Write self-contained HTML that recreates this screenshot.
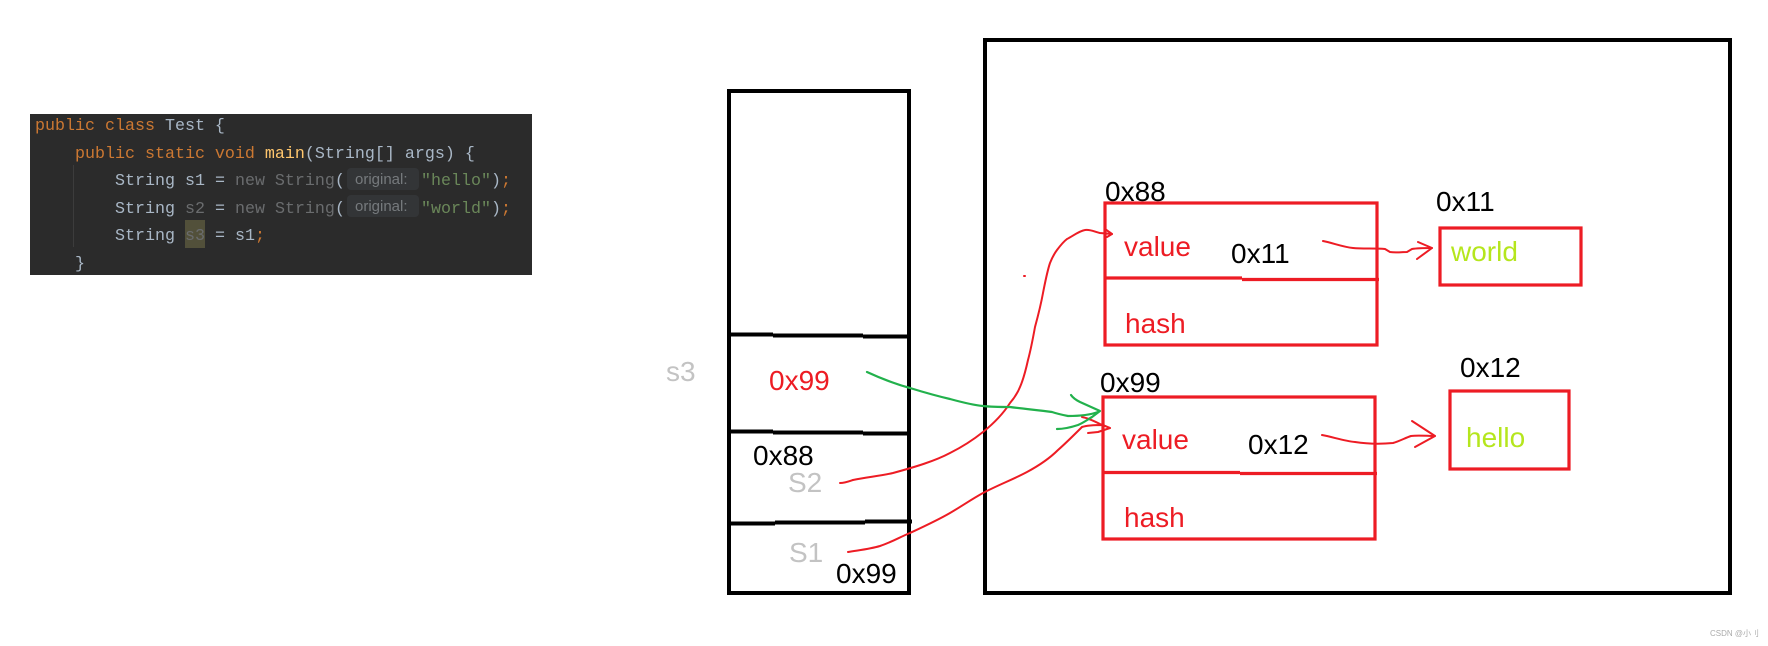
<!DOCTYPE html>
<html><head><meta charset="utf-8">
<style>
html,body{margin:0;padding:0;background:#fff;width:1768px;height:646px;overflow:hidden}
svg{display:block}
.t{font-family:"Liberation Sans",sans-serif;font-size:28px}
.m{font-family:"Liberation Mono",monospace;font-size:16.67px;white-space:pre}
.h{font-family:"Liberation Sans",sans-serif;font-size:15px;fill:#767a7d}
.k{fill:#cc7832}.w{fill:#a9b7c6}.g{fill:#6a6c6e}.s{fill:#6a8759}.f{fill:#ffc66d}
</style></head><body>
<svg width="1768" height="646" viewBox="0 0 1768 646" xmlns="http://www.w3.org/2000/svg">
<rect x="30" y="114" width="502" height="161" fill="#2b2b2b"/>
<rect x="185" y="220" width="20" height="28" fill="#52503a"/>
<rect x="347" y="168" width="72" height="22" rx="4" fill="#333537"/>
<rect x="347" y="195" width="72" height="22" rx="4" fill="#333537"/>
<path d="M73.500 165V247" stroke="#3c3c3c" stroke-width="1"/>
<text class="m" x="35" y="130"><tspan class="k">public class </tspan><tspan class="w">Test {</tspan></text>
<text class="m" x="75" y="158"><tspan class="k">public static void </tspan><tspan class="f">main</tspan><tspan class="w">(String[] args) {</tspan></text>
<text class="m" x="115" y="185"><tspan class="w">String s1 = </tspan><tspan class="g">new String</tspan><tspan class="w">(</tspan></text>
<text class="h" x="355" y="184">original:</text>
<text class="m" x="421" y="185"><tspan class="s">"hello"</tspan><tspan class="w">)</tspan><tspan class="k">;</tspan></text>
<text class="m" x="115" y="213"><tspan class="w">String </tspan><tspan class="g">s2</tspan><tspan class="w"> = </tspan><tspan class="g">new String</tspan><tspan class="w">(</tspan></text>
<text class="h" x="355" y="211">original:</text>
<text class="m" x="421" y="213"><tspan class="s">"world"</tspan><tspan class="w">)</tspan><tspan class="k">;</tspan></text>
<text class="m" x="115" y="240"><tspan class="w">String </tspan><tspan class="g">s3</tspan><tspan class="w"> = s1</tspan><tspan class="k">;</tspan></text>
<text class="m" x="75" y="268"><tspan class="w">}</tspan></text>

<g fill="none" stroke="#000" stroke-width="4">
<rect x="729" y="91" width="180" height="502"/>
<rect x="985" y="40" width="745" height="553"/>
<path d="M729 334.500H773M773 335.500H863M863 336.500H909"/>
<path d="M727 431.500H773M773 432.500H863M863 433.500H909"/>
<path d="M729 523.500H775M775 522.500H865M865 521.500H912"/>
</g>

<g fill="none" stroke="#ed1c24" stroke-width="3.200">
<rect x="1105" y="203" width="272" height="142"/>
<path d="M1105 278H1242M1242 279.500H1379"/>
<rect x="1103" y="397" width="272" height="142"/>
<path d="M1103 472.500H1240M1240 473.500H1377"/>
<rect x="1440" y="228" width="141" height="57"/>
<rect x="1450" y="391" width="119" height="78"/>
</g>

<text class="t" x="666" y="381" fill="#c3c3c3">s3</text>
<text class="t" x="769" y="390" fill="#ed1c24">0x99</text>
<text class="t" x="753" y="465">0x88</text>
<text class="t" x="788" y="492" fill="#c3c3c3">S2</text>
<text class="t" x="789" y="562" fill="#c3c3c3">S1</text>
<text class="t" x="836" y="583">0x99</text>

<text class="t" x="1105" y="201">0x88</text>
<text class="t" x="1436" y="211">0x11</text>
<text class="t" x="1124" y="256" fill="#ed1c24">value</text>
<text class="t" x="1231" y="263">0x11</text>
<text class="t" x="1125" y="333" fill="#ed1c24">hash</text>
<text class="t" x="1451" y="261" fill="#b5e61d">world</text>

<text class="t" x="1100" y="392">0x99</text>
<text class="t" x="1460" y="377">0x12</text>
<text class="t" x="1122" y="449" fill="#ed1c24">value</text>
<text class="t" x="1248" y="454">0x12</text>
<text class="t" x="1124" y="527" fill="#ed1c24">hash</text>
<text class="t" x="1466" y="447" fill="#b5e61d">hello</text>

<g fill="none" stroke="#ed1c24" stroke-width="2" stroke-linecap="round" stroke-linejoin="round">
<path d="M840 483C845 483 850 481 853 480C868 477 880 476 893 473C915 467 935 461 950 453C962 447 973 440 983 432C993 424 1003 414 1010 403C1016 396 1018 392 1020 387C1024 378 1026 369 1028 360C1031 349 1033 338 1035 327C1038 316 1041 304 1043 293C1045 283 1047 272 1050 263C1052 258 1054 254 1057 250C1060 246 1063 242 1067 239C1073 236 1079 231 1085 230C1090 229 1095 232 1100 233L1112 234"/>
<path d="M1105 229L1112 234L1107 237"/>
<path d="M848 552C860 550 870 549 880 546C892 542 900 537 910 533C925 526 938 520 950 513C962 506 972 499 983 493C998 485 1012 480 1027 472C1040 465 1050 458 1058 450C1066 443 1074 435 1082 427C1088 425 1096 425 1103 425L1110 428"/>
<path d="M1082 417C1088 418 1094 421 1100 424L1110 428L1098 432L1088 433"/>
<path d="M1323 241C1333 243 1343 247 1353 248C1363 249 1375 248 1385 249L1390 252C1396 253 1401 252 1407 252L1412 249C1418 248 1425 248 1432 248"/>
<path d="M1418 242L1432 248L1417 259"/>
<path d="M1322 435C1333 437 1344 441 1355 442C1368 444 1382 444 1393 443C1400 441 1405 438 1411 436C1418 435 1427 436 1435 436"/>
<path d="M1412 421L1435 436L1415 447"/>
<path d="M1024 276h1"/>
</g>
<g fill="none" stroke="#22b14c" stroke-width="2.200" stroke-linecap="round" stroke-linejoin="round">
<path d="M867 372C880 378 895 384 910 388C923 392 937 396 950 399C961 402 972 405 983 406C992 407 1001 407 1010 407C1024 409 1038 410 1052 412C1058 414 1063 415 1068 416C1078 416 1090 415 1098 412"/>
<path d="M1071 395C1073 398 1076 400 1080 402L1100 411L1092 417C1087 420 1083 423 1078 425C1072 427 1064 429 1057 429"/>
</g>
<text x="1710" y="636" font-family="&quot;Liberation Sans&quot;,&quot;Noto Sans CJK SC&quot;,sans-serif" font-size="8" fill="#aaa">CSDN @小刂</text>
</svg>
</body></html>
